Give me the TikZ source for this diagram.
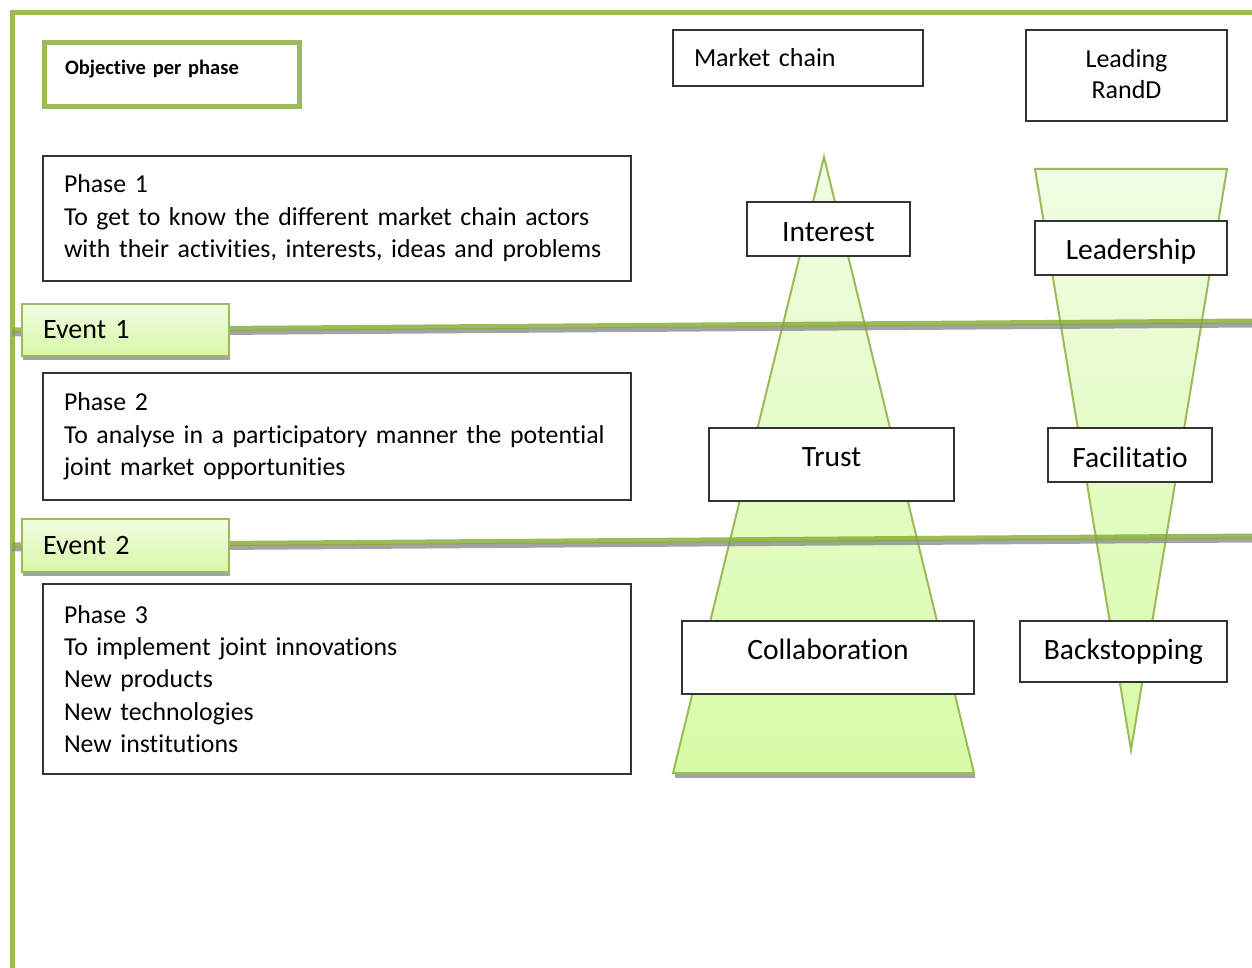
\documentclass[tikz,border=0pt]{standalone}
\usepackage{fontspec}
\setmainfont{Carlito}[Ligatures=NoCommon]
\usetikzlibrary{shadows}
\definecolor{OfficeGreen}{HTML}{9BBB59}
\definecolor{LineGreen}{HTML}{82AA30}
\definecolor{BoxLine}{HTML}{333333}
\definecolor{ShadowGray}{HTML}{A3A3A3}
\definecolor{LineGray}{HTML}{8C8C8C}
\definecolor{EventTop}{HTML}{F1FCE2}
\definecolor{EventBottom}{HTML}{D8F7A8}
\definecolor{WedgeTop}{HTML}{F0FDE4}
\definecolor{WedgeBottom}{HTML}{D8FBA6}

\begin{document}
\begin{tikzpicture}[
    x=1pt, y=-1pt,
    frame/.style={draw=OfficeGreen, line width=5pt},
    objbox/.style={draw=OfficeGreen, line width=5pt, fill=white, minimum height=64pt, text width=214pt, inner xsep=20.5pt, align=left, font=\bfseries\fontsize{20.5}{24}\selectfont, text height=16pt, text depth=15pt},
    headbox/.style={draw=BoxLine, line width=1.3pt, fill=white, font=\fontsize{26}{31}\selectfont},
    phasebox/.style={draw=BoxLine, line width=1.3pt, fill=white, text width=546pt, inner xsep=21pt, align=left, font=\fontsize{25.8}{32.4}\selectfont},
    eventbox/.style={draw=OfficeGreen, line width=2pt, top color=EventTop, bottom color=EventBottom, drop shadow={shadow xshift=1pt, shadow yshift=-4pt, fill=ShadowGray, opacity=1}, minimum height=52pt, text width=165pt, inner xsep=21pt, align=left, font=\fontsize{28}{33}\selectfont},
    labelbox/.style={draw=BoxLine, line width=1.3pt, fill=white, inner sep=0pt, font=\fontsize{29.5}{34}\selectfont},
    uptext/.style={text height=19pt, text depth=15pt},
    eventline/.style={draw=LineGreen, line width=5pt, draw opacity=0.8},
    evshadow/.style={draw=LineGray, line width=5pt, draw opacity=0.8, transform canvas={yshift=-4pt}},
    wedge/.style={draw=OfficeGreen, line width=2pt, top color=WedgeTop, bottom color=WedgeBottom}
]
\useasboundingbox (0,0) rectangle (1252,968);

% Frame
\coordinate (frameSW) at (12,968);
\coordinate (frameNW) at (12,13);
\coordinate (frameNE) at (1252,13);
\draw[frame] (frameSW) -- (frameNW) -- (frameNE);

% Market chain wedge
\coordinate (mktop) at (824,157);
\coordinate (mkbl) at (673,773);
\coordinate (mkbr) at (974,773);
\coordinate (mkshl) at (675,776);
\coordinate (mkshr) at (975,776);
\draw[ShadowGray, line width=4pt] (mkshl) -- (mkshr);
\path[wedge] (mktop) -- (mkbl) -- (mkbr) -- cycle;

% Leading RandD wedge
\coordinate (rdtl) at (1035,169);
\coordinate (rdtr) at (1227,169);
\coordinate (rdtip) at (1131,750);
\path[wedge] (rdtl) -- (rdtr) -- (rdtip) -- cycle;

% Event lines
\coordinate (ev1west) at (12,330);
\coordinate (ev1east) at (1252,321);
\coordinate (ev2west) at (12,545);
\coordinate (ev2east) at (1252,536);
\draw[evshadow] (ev1west) -- (ev1east);
\draw[eventline] (ev1west) -- (ev1east);
\draw[evshadow] (ev2west) -- (ev2east);
\draw[eventline] (ev2west) -- (ev2east);

% Headers
\node[objbox] (objective) at (172,74.5) {Objective per phase};
\node[headbox, text width=208pt, inner xsep=21pt, align=left, minimum height=56pt] (market) at (798,58) {Market chain};
\node[headbox, minimum width=201pt, minimum height=91pt, align=center, text depth=4pt] (randd) at (1126.5,75.5) {Leading\\RandD};

% Phases
\node[phasebox, minimum height=125pt] (phase1) at (337,218.5) {Phase 1\\To get to know the different market chain actors\\with their activities, interests, ideas and problems};
\node[phasebox, minimum height=127pt] (phase2) at (337,436.5) {Phase 2\\To analyse in a participatory manner the potential\\joint market opportunities};
\node[phasebox, minimum height=190pt] (phase3) at (337,679) {Phase 3\\To implement joint innovations\\New products\\New technologies\\New institutions};

% Events
\node[eventbox] (event1) at (125.5,330) {Event 1};
\node[eventbox, minimum height=53pt] (event2) at (125.5,545.5) {Event 2};

% Market chain steps
\node[labelbox, text height=25pt, text depth=0pt, minimum width=163pt, minimum height=54pt] (interest) at (828.5,229) {Interest};
\node[labelbox, uptext, minimum width=245pt, minimum height=73pt] (trust) at (831.5,464.5) {Trust};
\node[labelbox, uptext, minimum width=292pt, minimum height=73pt] (collab) at (828,657.5) {Collaboration};

% RandD steps
\node[labelbox, text height=27pt, text depth=3pt, minimum width=192pt, minimum height=54pt] (leader) at (1131,248) {Leadership};
\node[labelbox, text height=24pt, text depth=0pt, minimum width=164pt, minimum height=54pt] (facil) at (1130,455) {Facilitatio};
\node[labelbox, minimum width=207pt, minimum height=61pt] (backstop) at (1123.5,651.5) {Backstopping};

\end{tikzpicture}
\end{document}
